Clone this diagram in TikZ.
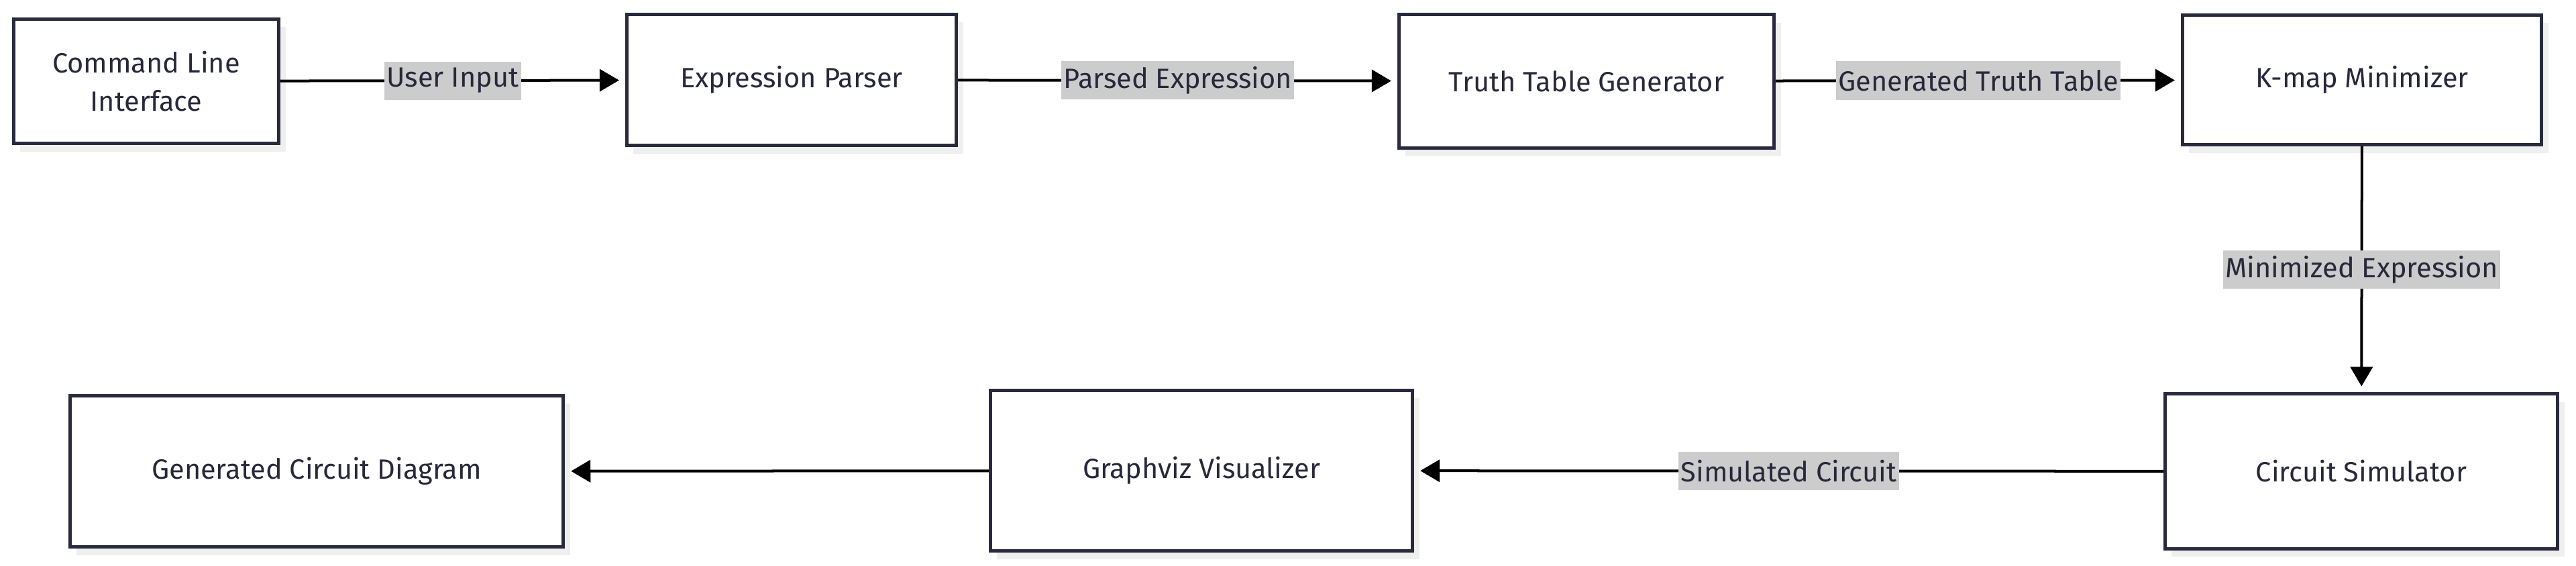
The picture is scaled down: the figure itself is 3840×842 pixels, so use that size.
\documentclass[tikz,border=0pt]{standalone}
\usepackage{fontspec}
\setmainfont{Fira Sans}
\usetikzlibrary{arrows.meta,shadows}
\definecolor{boxline}{RGB}{42,42,62}
\definecolor{textcol}{RGB}{40,40,60}
\definecolor{lblgray}{RGB}{204,204,204}
\definecolor{shadowgray}{RGB}{239,239,239}
\begin{document}
\begin{tikzpicture}
  [x=0.01cm,y=-0.01cm,
   every node/.style={text=textcol,font=\fontsize{11.8}{16.2}\selectfont},
   stage/.style={rectangle,draw=boxline,line width=0.05cm,fill=white,align=center,
     drop shadow={shadow xshift=0.1cm,shadow yshift=-0.12cm,fill=shadowgray,opacity=1}},
   lbl/.style={fill=lblgray,inner xsep=1pt,inner ysep=0pt,minimum height=0.57cm},
   flow/.style={line width=0.04cm,-{Triangle[length=0.29cm,width=0.33cm]},shorten >=0.09cm}]
    \useasboundingbox (0,0) rectangle (3840,842);

    \node (cli)    [stage,minimum width=3.95cm,minimum height=1.85cm] at (218,121)  {Command Line\\Interface};
    \node (parser) [stage,minimum width=4.91cm,minimum height=1.95cm] at (1180,119) {Expression Parser};
    \node (truth)  [stage,minimum width=5.59cm,minimum height=1.98cm] at (2365,121) {Truth Table Generator};
    \node (kmap)   [stage,minimum width=5.35cm,minimum height=1.93cm] at (3521,119) {K-map Minimizer};
    \node (sim)    [stage,minimum width=5.85cm,minimum height=2.30cm] at (3520,702) {Circuit Simulator};
    \node (gv)     [stage,minimum width=6.29cm,minimum height=2.39cm] at (1791,701) {Graphviz Visualizer};
    \node (gcd)    [stage,minimum width=7.35cm,minimum height=2.25cm] at (472,702)  {Generated Circuit Diagram};

    \foreach \from/\to/\what in {cli/parser/User Input,parser/truth/Parsed Expression,
        truth/kmap/Generated Truth Table,kmap/sim/Minimized Expression,sim/gv/Simulated Circuit}
      \draw[flow] (\from) -- node[lbl] {\what} (\to);

    \draw[flow] (gv) -- (gcd);
  \end{tikzpicture}
\end{document}
